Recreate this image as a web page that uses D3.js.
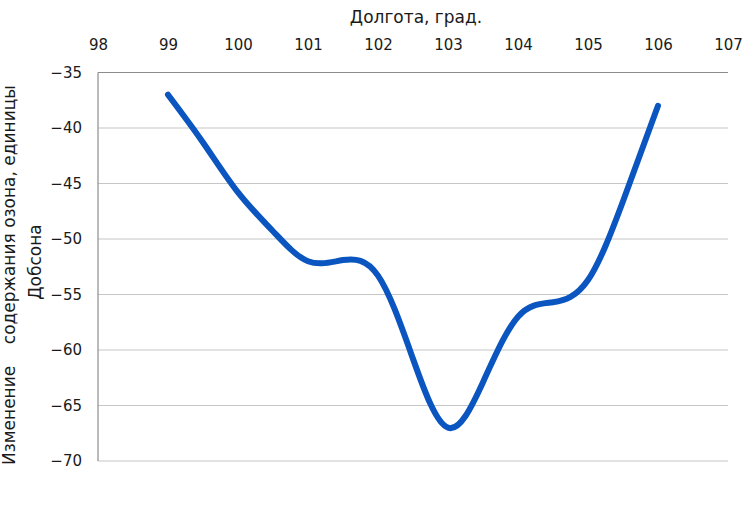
<!DOCTYPE html>
<html><head><meta charset="utf-8">
<script src="https://cdn.jsdelivr.net/npm/d3@7"></script>
<style>body{margin:0;background:#fff}svg{display:block}text{font-family:"DejaVu Sans",Verdana,sans-serif;fill:#1a1a1a}</style>
</head><body>
<script>
const longitude = [99, 99.5, 100, 100.5, 101, 101.5, 102, 102.5, 103, 103.5, 104, 104.5, 105, 105.5, 106];
const ozoneChange = [-37.0, -41.3, -45.8, -49.3, -52.0, -51.9, -53.3, -60.8, -67.0, -62.9, -57.0, -55.7, -53.7, -46.6, -38.0];
const xTicks = [98, 99, 100, 101, 102, 103, 104, 105, 106, 107];
const yTicks = [-35, -40, -45, -50, -55, -60, -65, -70];
const xTitle = "Долгота, град.";
const yTitle1 = "Изменение    содержания озона, единицы";
const yTitle2 = "Добсона";

const W = 751, H = 508;
const FONT = '"DejaVu Sans",Verdana,sans-serif';
const svg = d3.select("body").append("svg").attr("width", W).attr("height", H);
const x = d3.scaleLinear().domain([98, 107]).range([98, 728]);
const y = d3.scaleLinear().domain([-35, -70]).range([72.5, 461]);

// gridlines
svg.append("g").selectAll("line").data(yTicks).join("line")
  .attr("x1", x(98)).attr("x2", x(107))
  .attr("y1", d => y(d)).attr("y2", d => y(d))
  .attr("stroke", d => d === -35 ? "#8c8c8c" : "#c6c6c6").attr("stroke-width", 1.2);
svg.append("line").attr("x1", x(98)).attr("x2", x(98)).attr("y1", y(-35)).attr("y2", y(-70))
  .attr("stroke", "#8c8c8c").attr("stroke-width", 1.2);

// axes labels
const xAxis = d3.axisTop(x).tickValues(xTicks).tickSize(0).tickPadding(0).tickFormat(d3.format("d"));
const gx = svg.append("g").attr("transform", "translate(0,50)").call(xAxis);
gx.select(".domain").remove();
gx.selectAll("text").attr("font-size", 15).attr("font-family", FONT).attr("fill", "#1a1a1a").attr("dy", 0);

const yAxis = d3.axisLeft(y).tickValues(yTicks).tickSize(0).tickPadding(0).tickFormat(d3.format("d"));
const gy = svg.append("g").attr("transform", "translate(82,0)").call(yAxis);
gy.select(".domain").remove();
gy.selectAll("text").attr("font-size", 15).attr("font-family", FONT).attr("fill", "#1a1a1a").attr("dy", "0.3em");

// titles
svg.append("text").attr("x", 416).attr("y", 23).attr("text-anchor", "middle").attr("font-size", 17).text(xTitle);
svg.append("text").attr("transform", "translate(15,465) rotate(-90)").attr("text-anchor", "start")
  .attr("font-size", 17).style("white-space", "pre").text(yTitle1);
svg.append("text").attr("transform", "translate(41,262) rotate(-90)").attr("text-anchor", "middle")
  .attr("font-size", 17).text(yTitle2);

// line
const line = d3.line().x((d, i) => x(longitude[i])).y(d => y(d)).curve(d3.curveNatural);
svg.append("path").datum(ozoneChange).attr("d", line).attr("fill", "none")
  .attr("stroke", "#0a55bf").attr("stroke-width", 6).attr("stroke-linecap", "round").attr("stroke-linejoin", "round");
</script>
</body></html>
